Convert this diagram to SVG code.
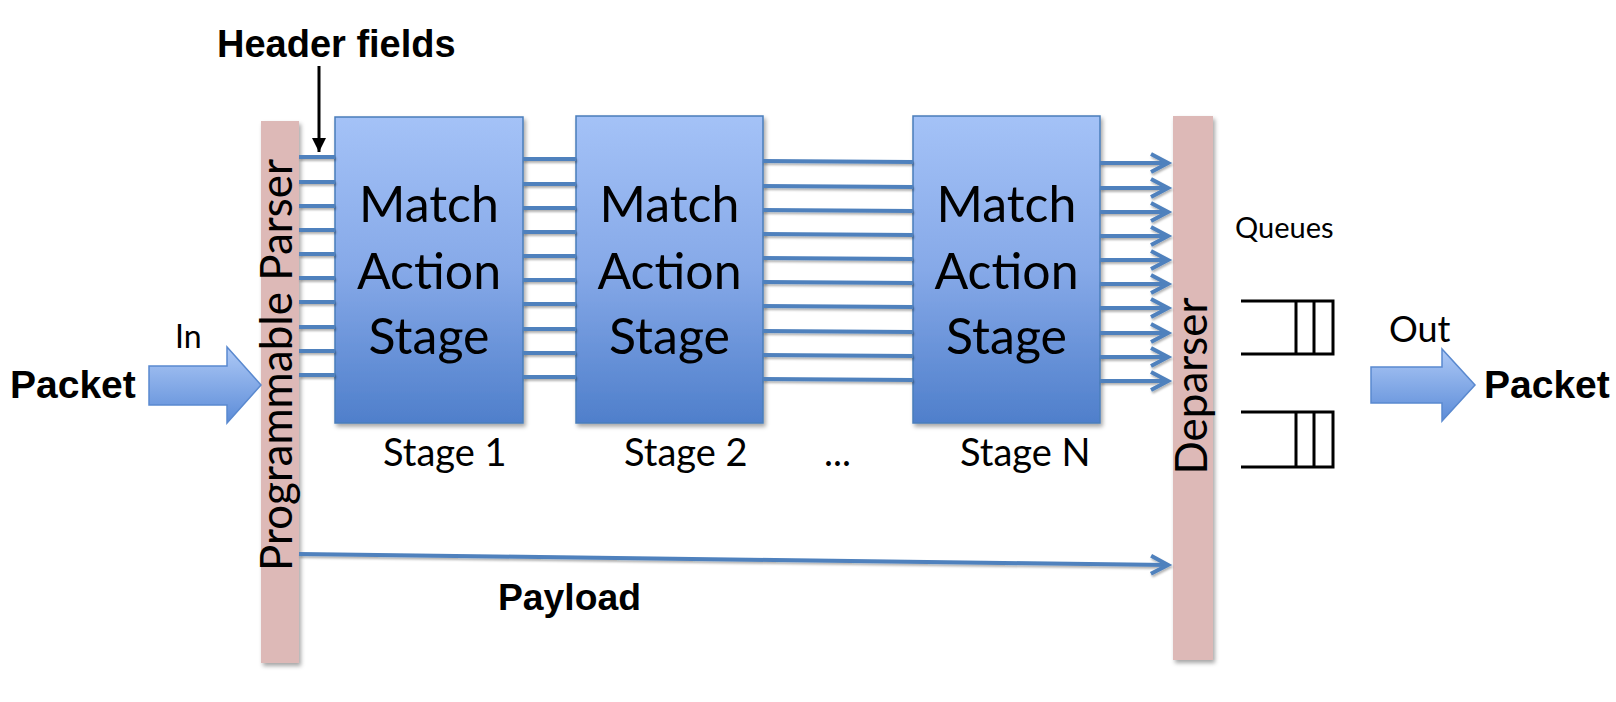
<svg xmlns="http://www.w3.org/2000/svg" width="1616" height="702" viewBox="0 0 1616 702">
<defs>
<style>
.lato{font-family:Lato,"Open Sans",sans-serif;fill:#000}
.bold{font-family:"Liberation Sans",Arial,sans-serif;font-weight:bold;fill:#000}
.bar{fill:#DDB9B7}
.box{fill:url(#boxg);stroke:#4A7EBB;stroke-width:1.5}
.big{fill:url(#arrg);stroke:#5A89CF;stroke-width:1.5}
.ln{stroke:#4F81BD;stroke-width:4;fill:none}
.q{stroke:#000;stroke-width:3;fill:none}
</style>
<linearGradient id="boxg" x1="0" y1="0" x2="0" y2="1">
<stop offset="0" stop-color="#A4C2F7"/>
<stop offset="0.5" stop-color="#86A9E8"/>
<stop offset="1" stop-color="#4F7FCB"/>
</linearGradient>
<linearGradient id="arrg" x1="0" y1="0" x2="0" y2="1">
<stop offset="0" stop-color="#AEC9F6"/>
<stop offset="1" stop-color="#5C8CD8"/>
</linearGradient>
<filter id="sh" x="-10%" y="-10%" width="130%" height="130%">
<feDropShadow dx="2" dy="3" stdDeviation="2" flood-color="#000" flood-opacity="0.35"/>
</filter>
<filter id="lsh" x="-5%" y="-50%" width="110%" height="300%">
<feDropShadow dx="1" dy="2" stdDeviation="1.2" flood-color="#000" flood-opacity="0.3"/>
</filter>
<marker id="chev" markerUnits="userSpaceOnUse" markerWidth="26" markerHeight="26" viewBox="0 0 26 26" refX="21" refY="13" orient="auto">
<path d="M4,4 L21,13 L4,22" stroke="#4F81BD" stroke-width="4" fill="none"/>
</marker>
<marker id="blk" markerUnits="userSpaceOnUse" markerWidth="20" markerHeight="20" viewBox="0 0 20 20" refX="16" refY="10" orient="auto">
<path d="M2,3 L16,10 L2,17 Z" fill="#000"/>
</marker>
</defs>
<rect width="1616" height="702" fill="#fff"/>

<g id="parser">
<rect class="bar" x="261" y="121" width="38" height="542" filter="url(#sh)"/>
<text class="lato" font-size="44" text-anchor="middle" transform="translate(292,365) rotate(-90)">Programmable Parser</text>
</g>

<g id="deparser">
<rect class="bar" x="1173" y="116" width="40" height="544" filter="url(#sh)"/>
<text class="lato" font-size="44" text-anchor="middle" transform="translate(1207,386) rotate(-90)">Deparser</text>
</g>

<g id="stage1">
<rect class="box" x="335" y="117" width="188" height="306" filter="url(#sh)"/>
<text class="lato" font-size="50" text-anchor="middle" x="429"><tspan x="429" y="222">Match</tspan><tspan x="429" y="289">Action</tspan><tspan x="429" y="354">Stage</tspan></text>
<text class="lato" font-size="38" x="383" y="466">Stage 1</text>
</g>

<g id="stage2">
<rect class="box" x="576" y="116" width="187" height="307" filter="url(#sh)"/>
<text class="lato" font-size="50" text-anchor="middle"><tspan x="669.5" y="222">Match</tspan><tspan x="669.5" y="289">Action</tspan><tspan x="669.5" y="354">Stage</tspan></text>
<text class="lato" font-size="38" x="624" y="466">Stage 2</text>
</g>

<g id="ellipsis">
<text class="lato" font-size="38" x="824" y="466">...</text>
</g>

<g id="stageN">
<rect class="box" x="913" y="116" width="187" height="307" filter="url(#sh)"/>
<text class="lato" font-size="50" text-anchor="middle"><tspan x="1006.5" y="222">Match</tspan><tspan x="1006.5" y="289">Action</tspan><tspan x="1006.5" y="354">Stage</tspan></text>
<text class="lato" font-size="38" x="960" y="466">Stage N</text>
</g>

<g id="queues">
<text class="lato" font-size="29" x="1235" y="238">Queues</text>
<path class="q" d="M1241,301 H1333 V354 H1241 M1296,301 V354 M1314,301 V354"/>
<path class="q" d="M1241,412 H1333 V467 H1241 M1296,412 V467 M1314,412 V467"/>
</g>

<g id="input">
<text class="bold" font-size="39" x="10" y="398">Packet</text>
<text class="lato" font-size="32" x="175" y="348">In</text>
<polygon class="big" points="149,366 227,366 227,347 261,385 227,423 227,405 149,405"/>
</g>

<g id="output">
<text class="lato" font-size="36" x="1389" y="342">Out</text>
<polygon class="big" points="1371,367 1442,367 1442,349 1475,385 1442,421 1442,403 1371,403"/>
<text class="bold" font-size="39" x="1484" y="398">Packet</text>
</g>

<g id="labels">
<text class="bold" font-size="38" x="217" y="57">Header fields</text>
<text class="bold" font-size="37" x="498" y="610" textLength="143" lengthAdjust="spacingAndGlyphs">Payload</text>
</g>

<g id="connectors">
<line x1="319" y1="66" x2="319" y2="152" stroke="#000" stroke-width="3" marker-end="url(#blk)"/>
<g filter="url(#lsh)">
<path class="ln" d="M299,157H335 M299,182H335 M299,206H335 M299,230H335 M299,254H335 M299,278H335 M299,302H335 M299,327H335 M299,351H335 M299,375H335"/>
<path class="ln" d="M523,159H576 M523,184H576 M523,208H576 M523,232H576 M523,256H576 M523,280H576 M523,304H576 M523,329H576 M523,353H576 M523,377H576"/>
<path class="ln" d="M763,161L913,162 M763,186L913,187 M763,210L913,211 M763,234L913,235 M763,258L913,259 M763,282L913,283 M763,306L913,307 M763,331L913,332 M763,355L913,356 M763,379L913,380"/>
<line class="ln" x1="1100" y1="163" x2="1168" y2="163" marker-end="url(#chev)"/>
<line class="ln" x1="1100" y1="188" x2="1168" y2="188" marker-end="url(#chev)"/>
<line class="ln" x1="1100" y1="212" x2="1168" y2="212" marker-end="url(#chev)"/>
<line class="ln" x1="1100" y1="236" x2="1168" y2="236" marker-end="url(#chev)"/>
<line class="ln" x1="1100" y1="260" x2="1168" y2="260" marker-end="url(#chev)"/>
<line class="ln" x1="1100" y1="284" x2="1168" y2="284" marker-end="url(#chev)"/>
<line class="ln" x1="1100" y1="308" x2="1168" y2="308" marker-end="url(#chev)"/>
<line class="ln" x1="1100" y1="333" x2="1168" y2="333" marker-end="url(#chev)"/>
<line class="ln" x1="1100" y1="357" x2="1168" y2="357" marker-end="url(#chev)"/>
<line class="ln" x1="1100" y1="381" x2="1168" y2="381" marker-end="url(#chev)"/>
<line class="ln" x1="299" y1="554" x2="1168" y2="565" marker-end="url(#chev)"/>
</g>
</g>
</svg>
